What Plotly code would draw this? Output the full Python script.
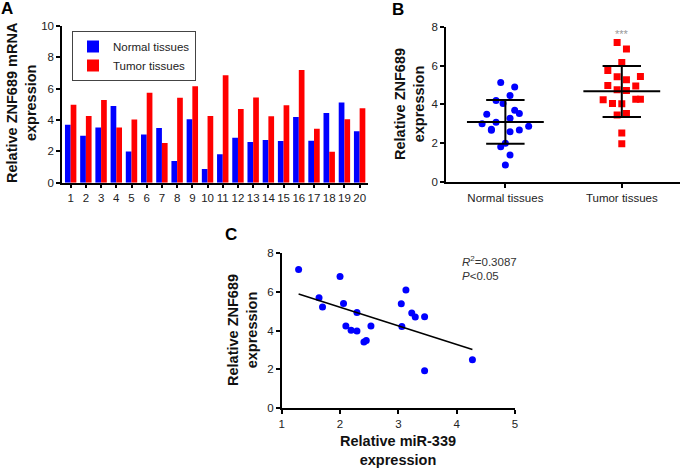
import plotly.graph_objects as go

# ---------------- data ----------------
samples = list(range(1, 21))
normal_vals = [3.70, 3.00, 3.53, 4.90, 1.99, 3.08, 3.49, 1.39, 4.05, 0.88,
               1.82, 2.87, 2.59, 2.72, 2.66, 4.20, 2.68, 4.45, 5.12, 3.28]
tumor_vals = [4.97, 4.26, 5.27, 3.53, 4.03, 5.74, 2.53, 5.42, 6.15, 4.26,
              6.85, 4.71, 5.44, 4.24, 4.95, 7.19, 3.45, 1.97, 4.05, 4.75]

# panel B horizontal offsets (dot-plot spread) for each sample
normal_offsets = [0.08, -0.20, 0.12, 0.08, 0.00, -0.08, -0.16, 0.04, -0.02, 0.00,
                  -0.04, 0.20, 0.04, -0.12, -0.12, -0.08, 0.12, 0.04, -0.04, 0.04]
tumor_offsets = [-0.12, 0.12, 0.04, 0.04, 0.00, -0.12, 0.00, -0.04, 0.00, 0.16,
                 0.04, 0.04, 0.16, -0.16, 0.12, -0.04, -0.04, 0.00, -0.08, -0.04]
group_labels = ["Normal tissues", "Tumor tissues"]
group_means = [3.09, 4.67]
group_sd_low = [1.97, 3.35]
group_sd_high = [4.22, 5.97]

# panel C
mir339 = [1.29, 2.00, 1.64, 1.70, 2.06, 2.29, 2.10, 2.19, 2.29, 2.53,
          2.41, 2.45, 3.05, 3.13, 3.06, 3.23, 3.29, 3.45, 3.45, 4.27]
znf689 = [7.14, 6.78, 5.68, 5.21, 5.39, 4.93, 4.23, 4.01, 3.97, 4.23,
          3.41, 3.49, 5.38, 6.08, 4.20, 4.90, 4.69, 4.71, 1.93, 2.50]
fit_x = [1.29, 4.27]
fit_y = [5.88, 3.02]

FONT = "Liberation Sans, Arial, sans-serif"
BLUE = "#0000ff"
RED = "#ff0000"
W, H = 681, 468

def px(x):
    return x / W

def py(y):
    return 1 - y / H

fig = go.Figure()

# ---------------- Panel A ----------------
fig.add_trace(go.Bar(x=samples, y=normal_vals, name="Normal tissues",
                     marker=dict(color=BLUE, line=dict(width=0)),
                     xaxis="x", yaxis="y"))
fig.add_trace(go.Bar(x=samples, y=tumor_vals, name="Tumor tissues",
                     marker=dict(color=RED, line=dict(width=0)),
                     xaxis="x", yaxis="y"))

# ---------------- Panel B ----------------
fig.add_trace(go.Scatter(x=[0 + o for o in normal_offsets], y=normal_vals,
                         mode="markers", marker=dict(color=BLUE, size=7, symbol="circle"),
                         showlegend=False, xaxis="x2", yaxis="y2"))
fig.add_trace(go.Scatter(x=[1 + o for o in tumor_offsets], y=tumor_vals,
                         mode="markers", marker=dict(color=RED, size=7, symbol="square"),
                         showlegend=False, xaxis="x2", yaxis="y2"))
for i in range(2):
    fig.add_trace(go.Scatter(x=[i - 0.33, i + 0.33], y=[group_means[i]] * 2, mode="lines",
                             line=dict(color="black", width=2), showlegend=False,
                             xaxis="x2", yaxis="y2"))
    for v in (group_sd_low[i], group_sd_high[i]):
        fig.add_trace(go.Scatter(x=[i - 0.165, i + 0.165], y=[v, v], mode="lines",
                                 line=dict(color="black", width=2), showlegend=False,
                                 xaxis="x2", yaxis="y2"))
    fig.add_trace(go.Scatter(x=[i, i], y=[group_sd_low[i], group_sd_high[i]], mode="lines",
                             line=dict(color="black", width=2), showlegend=False,
                             xaxis="x2", yaxis="y2"))

# ---------------- Panel C ----------------
fig.add_trace(go.Scatter(x=mir339, y=znf689, mode="markers",
                         marker=dict(color=BLUE, size=7), showlegend=False,
                         xaxis="x3", yaxis="y3"))
fig.add_trace(go.Scatter(x=fit_x, y=fit_y, mode="lines",
                         line=dict(color="black", width=1.5), showlegend=False,
                         xaxis="x3", yaxis="y3"))

def axis_style(size=11.5):
    return dict(showline=True, linecolor="black", linewidth=1.5, ticks="outside",
                ticklen=4, tickwidth=1.5, tickcolor="black", showgrid=False,
                zeroline=False, automargin=False, tickangle=0,
                tickfont=dict(family=FONT, size=size, color="#222"))

fig.update_layout(
    template="none",
    width=W, height=H, autosize=False,
    margin=dict(l=0, r=0, t=0, b=0, pad=0, autoexpand=False),
    paper_bgcolor="white", plot_bgcolor="white",
    font=dict(family=FONT, size=11.5, color="#222"),
    barmode="group", bargap=0.25, bargroupgap=0,
    legend=dict(x=px(72), y=py(31), xanchor="left", yanchor="top",
                bordercolor="#444", borderwidth=1, bgcolor="white",
                font=dict(family=FONT, size=11.5, color="#222"),
                tracegroupgap=0, itemwidth=30),
    xaxis=dict(domain=[px(62), px(368)], range=[0.43, 20.55], tickmode="array",
               tickvals=samples, ticktext=[str(s) for s in samples], anchor="y",
               **axis_style(11.5)),
    yaxis=dict(domain=[py(182.7), py(26)], range=[0, 10], tickvals=[0, 2, 4, 6, 8, 10],
               anchor="x", **axis_style(11.5)),
    xaxis2=dict(domain=[px(446), px(680)], range=[-0.51, 1.5], tickmode="array",
                tickvals=[0, 1], ticktext=group_labels, anchor="y2", **axis_style(11.5)),
    yaxis2=dict(domain=[py(182), py(26.7)], range=[0, 8], tickvals=[0, 2, 4, 6, 8],
                anchor="x2", **axis_style(11.5)),
    xaxis3=dict(domain=[px(281.7), px(515)], range=[1, 5], tickvals=[1, 2, 3, 4, 5],
                anchor="y3", **axis_style(11.5)),
    yaxis3=dict(domain=[py(408.3), py(252.7)], range=[0, 8], tickvals=[0, 2, 4, 6, 8],
                anchor="x3", **axis_style(11.5)),
)

title_font = dict(family=FONT, size=14.5, color="#111")
ann = [
    dict(text="<b>A</b>", x=px(7), y=py(8), font=dict(family=FONT, size=17, color="black")),
    dict(text="<b>B</b>", x=px(398), y=py(9), font=dict(family=FONT, size=17, color="black")),
    dict(text="<b>C</b>", x=px(231), y=py(234), font=dict(family=FONT, size=17, color="black")),
    dict(text="<b>Relative ZNF689 mRNA<br>expression</b>", x=px(21), y=py(103),
         textangle=-90, font=title_font),
    dict(text="<b>Relative ZNF689<br>expression</b>", x=px(409), y=py(104),
         textangle=-90, font=title_font),
    dict(text="<b>Relative ZNF689<br>expression</b>", x=px(242), y=py(330),
         textangle=-90, font=title_font),
    dict(text="<b>Relative miR-339<br>expression</b>", x=px(398), y=py(450),
         font=title_font),
    dict(text="***", x=1, y=7.6, xref="x2", yref="y2",
         font=dict(family=FONT, size=11, color="#999")),
    dict(text="<i>R</i><sup>2</sup>=0.3087", x=px(460), y=py(261), xanchor="left",
         font=dict(family=FONT, size=11.5, color="#333")),
    dict(text="<i>P</i>&lt;0.05", x=px(460), y=py(276), xanchor="left",
         font=dict(family=FONT, size=11.5, color="#333")),
]
for a in ann:
    a.setdefault("xref", "paper")
    a.setdefault("yref", "paper")
    a.setdefault("xanchor", "center")
    a.setdefault("yanchor", "middle")
    a["showarrow"] = False
    fig.add_annotation(**a)

fig.write_html("out.html", config={"displayModeBar": False},
               post_script="document.body.style.margin='0';document.body.style.padding='0';")
